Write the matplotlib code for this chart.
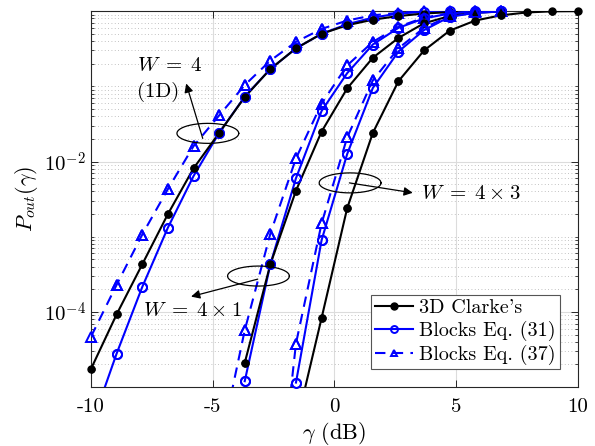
import numpy as np
import matplotlib
matplotlib.use("Agg")
import matplotlib.pyplot as plt
from matplotlib.ticker import FixedLocator, NullFormatter

plt.rcParams['font.family'] = ['cmr10', 'DejaVu Serif']
plt.rcParams['mathtext.fontset'] = 'cm'
plt.rcParams['axes.unicode_minus'] = False
plt.rcParams['axes.formatter.use_mathtext'] = True

# SNR grid (dB), 20 points between -10 and 10
gamma_db = np.linspace(-10, 10, 20)
nan = np.nan

# W = 4 (1D)
clarke_1d = [1.75e-5, 9.3e-5, 4.3e-4, 2.0e-3, 8.1e-3, 0.024, 0.072, 0.17, 0.32, 0.50,
             0.65, 0.77, 0.86, 0.93, 0.97, 0.99, 1.0, nan, nan, nan]
eq31_1d = [3e-6, 2.8e-5, 2.15e-4, 1.32e-3, 6.4e-3, 0.024, 0.073, 0.17, 0.32, 0.50,
           0.67, 0.82, 0.93, 0.98, 1.0, 1.0, 1.0, nan, nan, nan]
eq37_1d = [4.7e-5, 2.3e-4, 1.07e-3, 4.3e-3, 0.016, 0.041, 0.104, 0.22, 0.39, 0.58,
           0.75, 0.88, 0.95, 0.99, 1.0, 1.0, 1.0, nan, nan, nan]

# W = 4 x 1
clarke_41 = [nan, nan, nan, nan, nan, nan, 2.1e-5, 4.3e-4, 4.1e-3, 0.025,
             0.094, 0.24, 0.44, 0.69, 0.86, 0.95, 0.99, nan, nan, nan]
eq31_41 = [nan, nan, nan, nan, nan, nan, 1.2e-5, 4.3e-4, 6.0e-3, 0.047,
           0.15, 0.36, 0.60, 0.80, 0.93, 0.98, 1.0, nan, nan, nan]
eq37_41 = [nan, nan, nan, nan, nan, 1.4e-6, 5.7e-5, 1.1e-3, 0.011, 0.059,
           0.19, 0.39, 0.62, 0.82, 0.94, 0.99, 1.0, nan, nan, nan]

# W = 4 x 3
clarke_43 = [nan, nan, nan, nan, nan, nan, nan, nan, 3e-6, 8.3e-5,
             2.4e-3, 0.024, 0.117, 0.30, 0.55, 0.75, 0.88, 0.96, 0.995, 1.0]
eq31_43 = [nan, nan, nan, nan, nan, nan, nan, nan, 1.15e-5, 9e-4,
           0.0126, 0.095, 0.29, 0.56, 0.84, 0.95, 0.99, nan, nan, nan]
eq37_43 = [nan, nan, nan, nan, nan, nan, nan, 3e-8, 3.8e-5, 1.5e-3,
           0.021, 0.12, 0.32, 0.60, 0.86, 0.96, 0.99, nan, nan, nan]

xticks = [-10, -5, 0, 5, 10]
xticklabels = ['-10', '-5', '0', '5', '10']
yticks = [1e-4, 1e-2]
yticklabels = [r'$10^{-4}$', r'$10^{-2}$']

fig = plt.figure(figsize=(5.95, 4.46), dpi=100)
ax = fig.add_axes([0.153, 0.132, 0.818, 0.843])
ax.set_yscale('log')
ax.set_xlim(-10, 10)
ax.set_ylim(1e-5, 1)

blue = '#0000ff'
styles = {
    'clarke': dict(color='k', ls='-', marker='o', ms=5, mfc='k', mec='k'),
    'eq31': dict(color=blue, ls='-', marker='o', ms=6.5, mfc='none', mec=blue, mew=1.4),
    'eq37': dict(color=blue, ls=(0, (5, 3.5)), marker='^', ms=6.5, mfc='none', mec=blue, mew=1.4),
}
labels = {'clarke': "3D Clarke's", 'eq31': 'Blocks Eq. (31)', 'eq37': 'Blocks Eq. (37)'}
groups = [
    {'clarke': clarke_1d, 'eq31': eq31_1d, 'eq37': eq37_1d},
    {'clarke': clarke_41, 'eq31': eq31_41, 'eq37': eq37_41},
    {'clarke': clarke_43, 'eq31': eq31_43, 'eq37': eq37_43},
]

handles = {}
for gi, g in enumerate(groups):
    for key in ['eq37', 'eq31', 'clarke']:
        vals = np.array(g[key], dtype=float)
        st = styles[key]
        h, = ax.plot(gamma_db, vals, lw=1.5, **st, zorder=3)
        # markers sitting on the top edge are not clipped
        inside = (vals >= 1e-5) & (vals <= 1.0)
        ax.plot(gamma_db[inside], vals[inside], ls='none', clip_on=False,
                marker=st['marker'], ms=st['ms'], mfc=st['mfc'], mec=st['mec'],
                mew=st.get('mew', 1.0), zorder=4)
        if gi == 0:
            handles[key] = h

# ellipses and arrows marking each group
def ellipse(cx, cy, a=1.27, b=0.133):
    t = np.linspace(0, 2 * np.pi, 200)
    ax.plot(cx + a * np.cos(t), 10 ** (np.log10(cy) + b * np.sin(t)), color='k', lw=0.9, zorder=5)

ellipse(-5.2, 0.0237)
ellipse(-3.12, 3.0e-4)
ellipse(0.645, 5.2e-3)

arw = dict(arrowstyle='-|>', color='k', lw=0.9, mutation_scale=13, shrinkA=0, shrinkB=0)
ax.annotate('', xy=(-6.09, 0.109), xytext=(-5.41, 0.0203), arrowprops=arw, zorder=6)
ax.annotate('', xy=(-5.89, 1.6e-4), xytext=(-3.15, 2.73e-4), arrowprops=arw, zorder=6)
ax.annotate('', xy=(3.22, 3.84e-3), xytext=(0.616, 5.2e-3), arrowprops=arw, zorder=6)

ax.text(-8.1, 0.186, r'$W\;=\;4$', fontsize=15, ha='left', va='center')
ax.text(-8.1, 0.0837, '(1D)', fontsize=15, ha='left', va='center')
ax.text(-7.87, 1.03e-4, r'$W\;=\;4\:\times\:1$', fontsize=15, ha='left', va='center')
ax.text(3.56, 3.68e-3, r'$W\;=\;4\:\times\:3$', fontsize=15, ha='left', va='center')

# axes styling
ax.set_xticks(xticks)
ax.set_xticklabels(xticklabels, fontsize=15)
ax.yaxis.set_major_locator(FixedLocator(yticks))
ax.set_yticklabels(yticklabels, fontsize=15)
minor = [m * 10.0 ** k for k in range(-5, 0) for m in range(1, 10) if not (m == 1 and k in (-4, -2))]
ax.yaxis.set_minor_locator(FixedLocator(minor))
ax.yaxis.set_minor_formatter(NullFormatter())
ax.tick_params(which='both', direction='in', top=True, right=True, colors='#262626', labelcolor='k')
ax.tick_params(which='major', length=5, width=0.7)
ax.tick_params(axis='x', which='major', pad=8)
ax.tick_params(which='minor', length=2.5, width=0.6)
ax.grid(True, which='major', color='#dcdcdc', lw=0.8, ls='-')
ax.grid(True, which='minor', axis='y', color='#b0b0b0', lw=0.6, ls=(0, (1, 3)))
ax.set_axisbelow(True)
for s in ax.spines.values():
    s.set_color('#262626')
    s.set_linewidth(0.8)

ax.set_xlabel(r'$\gamma$ (dB)', fontsize=16, labelpad=3)
ax.set_ylabel(r'$P_{out}(\gamma)$', fontsize=16, labelpad=3)

leg = ax.legend([handles['clarke'], handles['eq31'], handles['eq37']],
                [labels['clarke'], labels['eq31'], labels['eq37']],
                loc='lower right', fontsize=14.5, handlelength=1.9, handletextpad=0.3,
                borderpad=0.2, labelspacing=0.2, fancybox=False, framealpha=1,
                edgecolor='#555555', borderaxespad=0.9)
leg.get_frame().set_linewidth(0.8)
for lh in leg.legend_handles:
    lh.set_markersize(5)

fig.savefig('out.png', dpi=100)
